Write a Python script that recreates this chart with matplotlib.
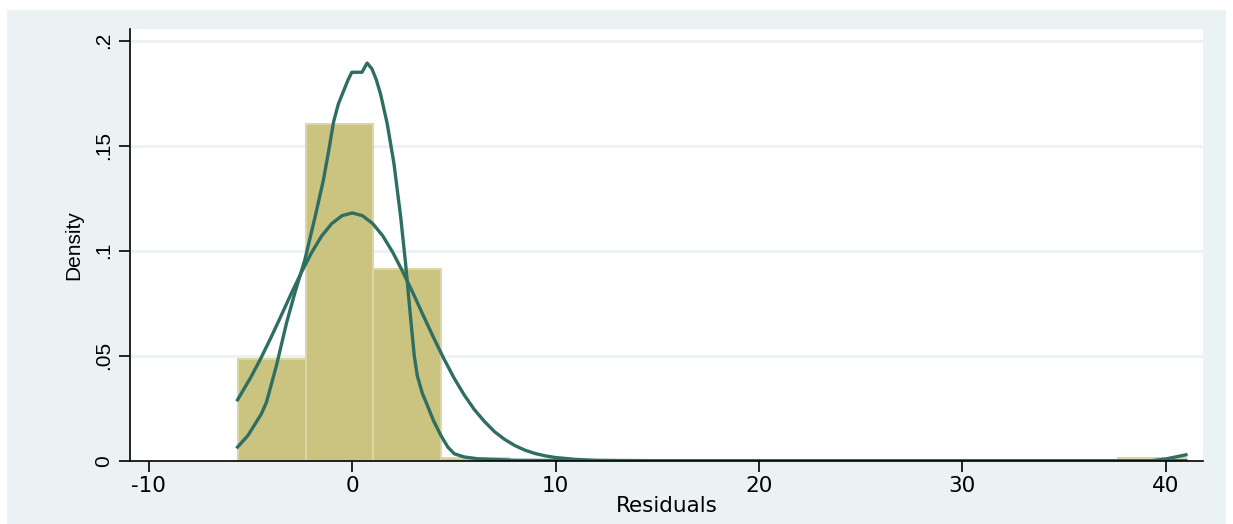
import matplotlib
matplotlib.use("Agg")
import matplotlib.pyplot as plt
from matplotlib.patches import Rectangle

# Histogram of residuals (bin left edges, common width, densities)
bin_left = [-5.62, -2.29, 1.04, 4.37, 7.70, 11.03, 14.36, 17.69, 21.02, 24.35, 27.68, 31.01, 34.34, 37.67]
bin_width = 3.33
bin_density = [0.0483, 0.1603, 0.0911, 0.0014, 0, 0, 0, 0, 0, 0, 0, 0, 0, 0.0014]

# Kernel density estimate
kde_x = [-5.64, -5.13, -4.47, -4.22, -3.73, -3.23, -2.82, -2.33, -1.83, -1.42, -1.15, -0.92, -0.68, -0.43,
         -0.20, -0.02, 0.48, 0.73, 0.97, 1.18, 1.39, 1.72, 2.05, 2.38, 2.62, 2.87, 3.05, 3.20, 3.45, 3.70,
         4.0, 4.36, 4.70, 5.02, 5.50, 6.17, 8.0, 12.0, 20.0, 30.0, 39.3, 40.0, 41.0]
kde_y = [0.0065, 0.0120, 0.0223, 0.0278, 0.0452, 0.0657, 0.0800, 0.0957, 0.1160, 0.1336, 0.1480, 0.1613,
         0.1700, 0.1760, 0.1815, 0.1850, 0.1850, 0.1894, 0.1866, 0.1815, 0.1747, 0.1605, 0.1416, 0.1163,
         0.0942, 0.0680, 0.0500, 0.0404, 0.0320, 0.0262, 0.0190, 0.0120, 0.0065, 0.0033, 0.0018, 0.0009,
         0.0002, 0.0, 0.0, 0.0, 0.0, 0.0008, 0.0028]

# Normal density overlay
norm_x = [-5.64, -5.0, -4.5, -4.0, -3.5, -3.0, -2.5, -2.0, -1.5, -1.0, -0.5, 0.0, 0.5, 1.0, 1.5, 2.0,
          2.5, 3.0, 3.5, 4.0, 4.5, 5.0, 5.5, 6.0, 6.5, 7.0, 7.5, 8.0, 8.5, 9.0, 9.5, 10.0, 11.0, 12.0,
          13.0, 15.0, 41.0]
norm_y = [0.0290, 0.0395, 0.0487, 0.0586, 0.0690, 0.0796, 0.0897, 0.0991, 0.1071, 0.1130, 0.1167, 0.1180,
          0.1167, 0.1130, 0.1071, 0.0991, 0.0897, 0.0796, 0.0690, 0.0586, 0.0487, 0.0395, 0.0314, 0.0244,
          0.0187, 0.0138, 0.0101, 0.0072, 0.0050, 0.0034, 0.0023, 0.0015, 0.0006, 0.0002, 0.0001, 0.0, 0.0]

x_ticks = [-10, 0, 10, 20, 30, 40]
x_tick_labels = ["-10", "0", "10", "20", "30", "40"]
y_ticks = [0, 0.05, 0.1, 0.15, 0.2]
y_tick_labels = ["0", ".05", ".1", ".15", ".2"]

W, H = 1233, 524
fig = plt.figure(figsize=(W / 100, H / 100), dpi=100)
fig.patch.set_facecolor("white")
bg = "#EAF2F3"
fig.patches.append(Rectangle((7 / W, 0), (1226 - 7) / W, (H - 10) / H, transform=fig.transFigure,
                             facecolor=bg, edgecolor="none", zorder=-10))

ax = fig.add_axes([130 / W, (H - 460.7) / H, (1203 - 130) / W, (460.7 - 29) / H])
ax.set_facecolor("white")

bar_fill = "#CBC380"
bar_edge = "#DCD6A6"
ax.bar(bin_left, bin_density, width=bin_width, align="edge", color=bar_fill,
       edgecolor=bar_edge, linewidth=1.5, zorder=2)

line_c = "#2E6E63"
ax.plot(kde_x, kde_y, color=line_c, lw=2.4, zorder=3, solid_joinstyle="round")
ax.plot(norm_x, norm_y, color=line_c, lw=2.4, zorder=3, solid_joinstyle="round")

ax.set_xlim(-10.93, 41.84)
ax.set_ylim(0, 0.2056)

for v in y_ticks[1:]:
    ax.axhline(v, color=bg, lw=2, zorder=1)

for s in ["top", "right"]:
    ax.spines[s].set_visible(False)
for s in ["left", "bottom"]:
    ax.spines[s].set_color("black")
    ax.spines[s].set_linewidth(1.2)
    ax.spines[s].set_zorder(4)

ax.set_xticks(x_ticks)
ax.set_xticklabels(x_tick_labels, fontsize=15.5, family="DejaVu Sans")
ax.set_yticks(y_ticks)
ax.set_yticklabels(y_tick_labels, fontsize=15, rotation=90, va="center", family="Liberation Sans")
ax.tick_params(axis="both", direction="out", length=8, width=1.2, color="black")
ax.tick_params(axis="x", pad=3)
ax.tick_params(axis="y", pad=4)

ax.set_xlabel("Residuals", fontsize=15.5, family="DejaVu Sans", labelpad=0)
ax.set_ylabel("Density", fontsize=15, family="Liberation Sans", labelpad=8)

fig.savefig("out.png", dpi=100, facecolor=fig.get_facecolor())
